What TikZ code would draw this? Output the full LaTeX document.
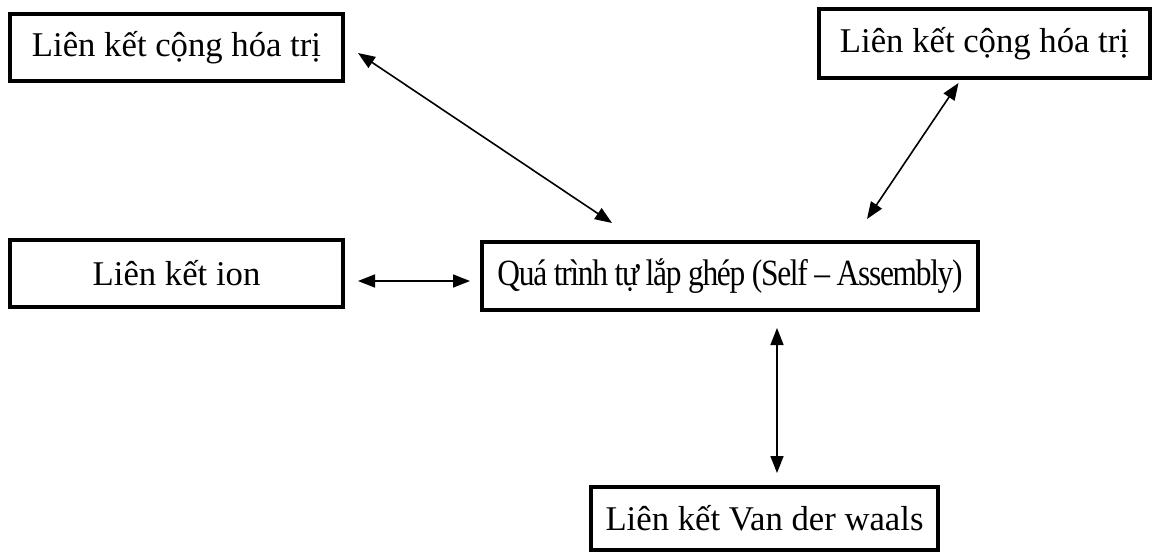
\documentclass[tikz,border=0pt]{standalone}
\usepackage{fontspec}
\setmainfont{Liberation Serif}
\newfontfamily\tightserif[FakeStretch=0.85,LetterSpace=-3.5]{Liberation Serif}
\usetikzlibrary{arrows.meta,calc}
\begin{document}
\begin{tikzpicture}[x=1pt,y=-1pt,
  box/.style={draw,line width=4pt,inner sep=0pt,font=\fontsize{34.7}{40}\selectfont,anchor=center},
  link/.style={line width=1.6pt,{Triangle[length=17pt,width=13pt]}-{Triangle[length=17pt,width=13pt]}}]
\useasboundingbox (0,0) rectangle (1154,557);
\node[box,minimum width=333pt,minimum height=67pt] (b1) at (176.5,47.5) {Liên kết cộng hóa trị};
\node[box,minimum width=331pt,minimum height=69pt] (b2) at (984.5,43.5) {Liên kết cộng hóa trị};
\node[box,minimum width=333pt,minimum height=67pt] (b3) at (176.5,273.5) {Liên kết ion};
\node[box,minimum width=496pt,minimum height=68pt,font=\tightserif\fontsize{37}{40}\selectfont] (b4) at (730,276) {Quá trình tự lắp ghép (Self – Assembly)};
\node[box,minimum width=347pt,minimum height=63pt] (b5) at (764.5,518.5) {Liên kết Van der waals};
\draw[link] ($(b1.east)+(13,5.5)$) -- ($(b4.north west)+(132,-17)$);
\draw[link] ($(b2.south)+(-26,3)$) -- ($(b4.north)+(137,-21)$);
\draw[link] ($(b3.east)+(13,7.5)$) -- ($(b4.west)+(-10,5)$);
\draw[link] ($(b4.south)+(47,16)$) -- ($(b5.north)+(12.5,-12)$);
\end{tikzpicture}
\end{document}
